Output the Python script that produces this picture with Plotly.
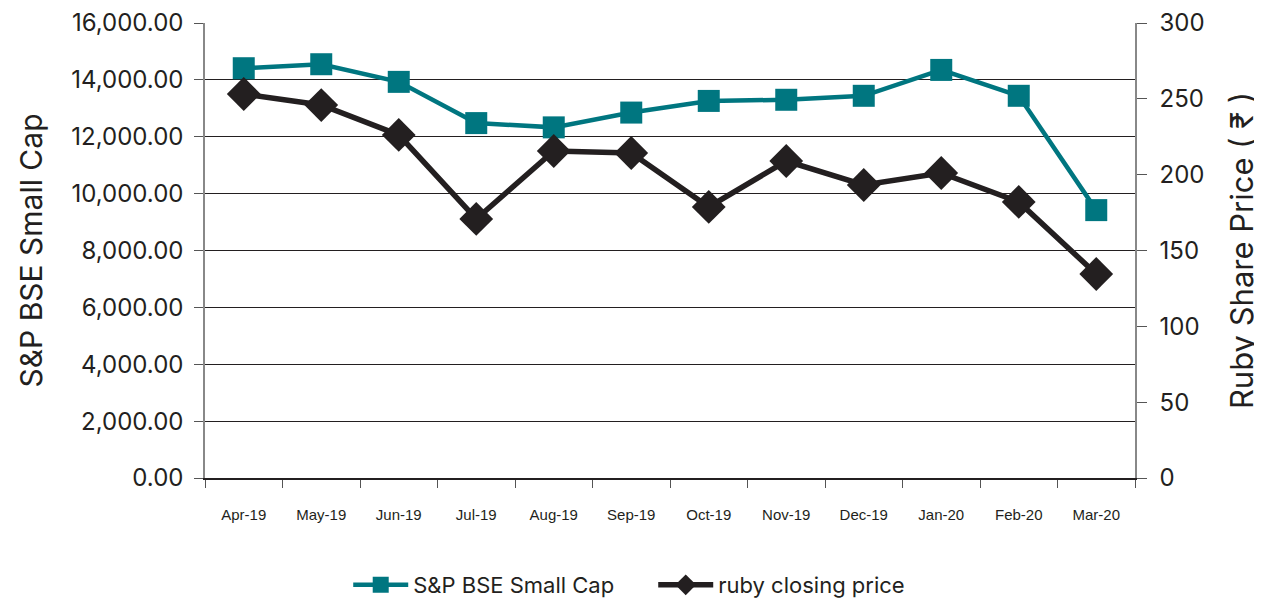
import plotly.graph_objects as go

months = ["Apr-19", "May-19", "Jun-19", "Jul-19", "Aug-19", "Sep-19",
          "Oct-19", "Nov-19", "Dec-19", "Jan-20", "Feb-20", "Mar-20"]
bse_smallcap = [14410, 14550, 13930, 12480, 12330, 12850,
                13260, 13300, 13440, 14350, 13440, 9420]
ruby_price = [253.2, 245.9, 226.2, 170.8, 215.6, 214.3,
              178.7, 209.0, 193.2, 201.1, 182.0, 134.5]
left_ticks = [0, 2000, 4000, 6000, 8000, 10000, 12000, 14000, 16000]
right_ticks = [0, 50, 100, 150, 200, 250, 300]

TEAL = "#007680"
DARK = "#231f20"
FONT = "Inter, Noto Sans, DejaVu Sans"

fig = go.Figure()
fig.add_trace(go.Scatter(
    x=months, y=bse_smallcap, name="S&P BSE Small Cap", mode="lines+markers",
    line=dict(color=TEAL, width=4.5),
    marker=dict(symbol="square", size=22, color=TEAL),
    yaxis="y"))
fig.add_trace(go.Scatter(
    x=months, y=ruby_price, name="ruby closing price", mode="lines+markers",
    line=dict(color=DARK, width=5.5),
    marker=dict(symbol="diamond", size=26, color=DARK),
    yaxis="y2"))

fig.update_layout(
    width=1262, height=598,
    margin=dict(l=197, r=135, t=15, b=128, autoexpand=False),
    paper_bgcolor="white", plot_bgcolor="white",
    font=dict(family=FONT, color=DARK),
    showlegend=True,
    legend=dict(orientation="h", x=0.154, xanchor="left",
                yref="container", y=0.035, yanchor="middle",
                font=dict(size=22, color=DARK, family=FONT),
                itemwidth=55, tracegroupgap=0,
                entrywidth=235, entrywidthmode="pixels"),
    xaxis=dict(
        type="category", range=[-0.5, 11.5], automargin=False,
        tickson="boundaries", ticks="outside", ticklen=8, tickcolor="#555",
        showline=True, linecolor=DARK, linewidth=2,
        showgrid=False, ticklabelstandoff=22,
        tickfont=dict(family="Liberation Sans Narrow, Liberation Sans", size=15, color=DARK),
    ),
    yaxis=dict(
        range=[0, 16000], tickvals=left_ticks, tickformat=",.2f", automargin=False,
        ticks="outside", ticklen=9, tickcolor="#555",
        showline=True, linecolor="#888", linewidth=1.5,
        showgrid=True, gridcolor=DARK, gridwidth=1, zeroline=False,
        tickfont=dict(size=24, color=DARK, family=FONT),
        ticklabelstandoff=6,
        title=dict(text="S&P BSE Small Cap", font=dict(size=30, color=DARK, family=FONT), standoff=20),
    ),
    yaxis2=dict(
        range=[0, 300], tickvals=right_ticks, overlaying="y", side="right", automargin=False,
        ticks="outside", ticklen=10, tickcolor="#555",
        showline=True, linecolor="#888", linewidth=1.5,
        showgrid=False, zeroline=False,
        tickfont=dict(size=24, color=DARK, family=FONT),
        ticklabelstandoff=8,
        title=dict(text="Ruby Share Price ( ₹ )", font=dict(size=31, color=DARK, family=FONT), standoff=28),
    ),
)

fig.write_html("out.html")
